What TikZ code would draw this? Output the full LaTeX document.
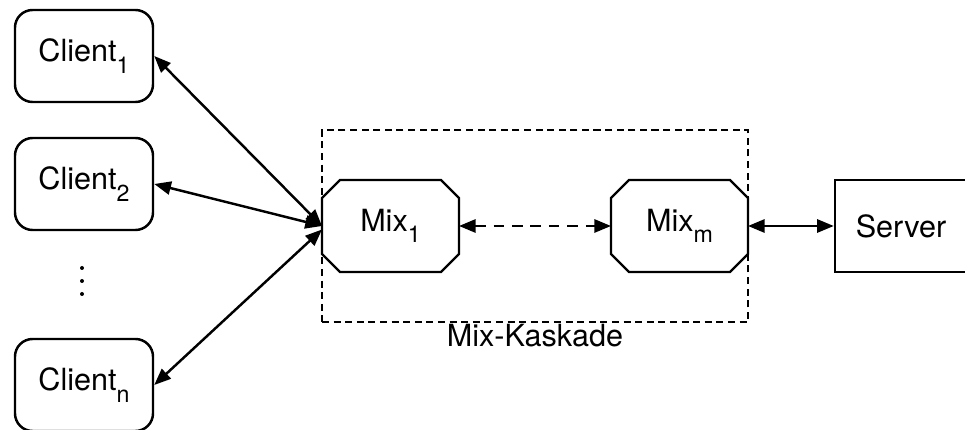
\documentclass[tikz,border=0pt]{standalone}
\usepackage{fontspec}
\setmainfont{TeX Gyre Heros}
\usetikzlibrary{arrows.meta,fit}

\newcommand{\idx}[1]{\raisebox{-0.37em}{\fontsize{13.2}{15}\selectfont #1}}

\tikzset{
  every node/.style={font=\fontsize{17.4}{20}\selectfont},
  client/.style={draw, line width=1.4pt, rounded corners=10pt,
    minimum width=2.76cm, minimum height=1.84cm},
  mixbox/.style={outer sep=0pt, minimum width=2.74cm, minimum height=1.84cm},
  link/.style={line width=1.4pt,
    {Triangle[length=9.5pt,width=7.5pt]}-{Triangle[length=9.5pt,width=7.5pt]}},
}

\begin{document}
\begin{tikzpicture}
    \clip (0,0) rectangle (19.3,8.6);

    % Clients
    \node[client] (c1) at (1.68,7.48) {Client\idx{1}};
    \node[client] (c2) at (1.68,4.92) {Client\idx{2}};
    \node[client] (cn) at (1.68,0.90) {Client\idx{n}};
    \foreach \y in {3.24,2.98,2.72}
      \fill (1.64,\y) circle (0.04);

    % Mixes and server
    \node[mixbox] (mix1) at (7.81,4.08) {Mix\idx{1}};
    \node[mixbox] (mixm) at (13.59,4.08) {Mix\idx{m}};
    \foreach \m in {mix1,mixm}
      \draw[line width=1.4pt] ([xshift=0.36cm]\m.north west) -- ([xshift=-0.36cm]\m.north east)
        -- ([yshift=-0.36cm]\m.north east) -- ([yshift=0.36cm]\m.south east)
        -- ([xshift=-0.36cm]\m.south east) -- ([xshift=0.36cm]\m.south west)
        -- ([yshift=0.36cm]\m.south west) -- ([yshift=-0.36cm]\m.north west) -- cycle;
    \node[draw, line width=1.4pt, minimum width=2.64cm, minimum height=1.84cm]
      (server) at (18.02,4.08) {Server};

    % Cascade
    \node[fit=(mix1)(mixm), draw, line width=1.4pt, dash pattern=on 4pt off 2.6pt,
      inner xsep=0pt, inner ysep=1cm,
      label={[label distance=-3pt]below:Mix-Kaskade}] (cascade) {};

    % Links
    \draw[link] (c1.east) -- (mix1.west);
    \draw[link] (c2.east) -- (mix1.west);
    \draw[link] (cn.east) -- ([yshift=-2pt]mix1.west);
    \draw[link, dash pattern=on 6pt off 4.5pt] (mix1) -- (mixm);
    \draw[link] (mixm) -- (server);
\end{tikzpicture}
\end{document}
